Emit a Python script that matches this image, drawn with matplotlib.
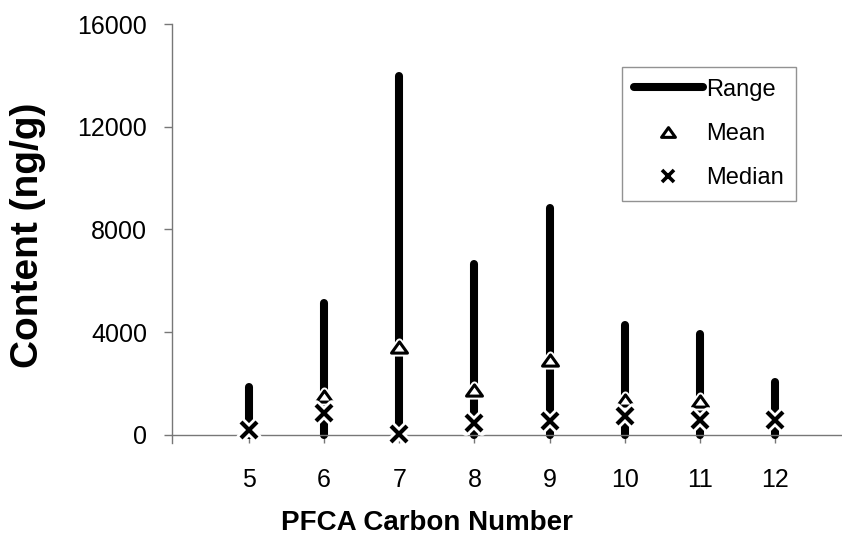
import matplotlib
matplotlib.use("Agg")
import matplotlib.pyplot as plt
import numpy as np
from matplotlib.lines import Line2D
from matplotlib.markers import MarkerStyle
from matplotlib.path import Path

plt.rcParams['font.family'] = ['Liberation Sans', 'DejaVu Sans']

carbon = [5, 6, 7, 8, 9, 10, 11, 12]
range_min = [0, 0, 0, 0, 0, 0, 0, 0]
range_max = [1870, 5140, 13980, 6650, 8840, 4280, 3930, 2060]
mean_vals = [np.nan, 1500, 3400, 1750, 2930, 1360, 1300, np.nan]
median_vals = [200, 860, 40, 470, 550, 750, 580, 580]
yticks = [0, 4000, 8000, 12000, 16000]

fig = plt.figure(figsize=(8.42, 5.58), dpi=100)
ax = fig.add_axes([172/842, (558-443)/558, (842-172)/842, (443-24)/558])

gray = '#777777'
lw_range = 5.8

for x, lo, hi in zip(carbon, range_min, range_max):
    ax.plot([x, x], [lo, hi], color='black', lw=lw_range,
            solid_capstyle='round', zorder=2)

tri_path = Path([(-1, -0.7), (1, -0.7), (0, 0.7), (-1, -0.7)],
                [Path.MOVETO, Path.LINETO, Path.LINETO, Path.CLOSEPOLY])
tri = MarkerStyle(tri_path, joinstyle='miter')
tri_halo = MarkerStyle(tri_path, joinstyle='round')
x_halo = MarkerStyle('x', capstyle='round')

# white halos then markers
ax.plot(carbon, mean_vals, linestyle='none', marker=tri_halo, markersize=11.5,
        markerfacecolor='white', markeredgecolor='white', markeredgewidth=5, zorder=3)
ax.plot(carbon, mean_vals, linestyle='none', marker=tri, markersize=11.5,
        markerfacecolor='white', markeredgecolor='black', markeredgewidth=2.2, zorder=4)
ax.plot(carbon, median_vals, linestyle='none', marker=x_halo, markersize=11.5,
        markeredgecolor='white', markeredgewidth=7, zorder=5)
ax.plot(carbon, median_vals, linestyle='none', marker='x', markersize=11.5,
        markeredgecolor='black', markeredgewidth=3, zorder=6)

ax.set_xlim(3.975, 12.89)
ax.set_ylim(-320, 16000)
ax.set_yticks(yticks)
ax.set_yticklabels([str(v) for v in yticks])
ax.set_xticks(carbon)
ax.set_xticklabels([str(c) for c in carbon])

for s in ['top', 'right']:
    ax.spines[s].set_visible(False)
ax.spines['bottom'].set_position(('data', 0))
ax.spines['left'].set_color(gray)
ax.spines['bottom'].set_color(gray)
ax.spines['left'].set_linewidth(1)
ax.spines['bottom'].set_linewidth(1)
ax.tick_params(axis='y', direction='out', length=6, width=1, color=gray,
               labelsize=18, pad=12)
ax.tick_params(axis='x', direction='out', length=6, width=1, color=gray,
               labelsize=18, pad=18)

ax.set_xlabel('PFCA Carbon Number', fontsize=20, fontweight='bold')
ax.xaxis.set_label_coords((427 - 172) / 670, (443 - 510) / 419)
ax.set_ylabel('Content (ng/g)', fontsize=28, fontweight='bold')
ax.yaxis.set_label_coords((46 - 172) / 670, (443 - 235) / 419)

handles = [
    Line2D([], [], color='black', lw=lw_range, solid_capstyle='round'),
    Line2D([], [], linestyle='none', marker=tri, markersize=10,
           markerfacecolor='white', markeredgecolor='black', markeredgewidth=2.2),
    Line2D([], [], linestyle='none', marker='x', markersize=9,
           markeredgecolor='black', markeredgewidth=2.6),
]
leg = ax.legend(handles, ['Range', 'Mean', 'Median'], loc='upper left',
                bbox_to_anchor=(0.672, 0.898), borderaxespad=0, fontsize=17,
                frameon=True, fancybox=False, handlelength=2.9,
                handletextpad=0.15, labelspacing=0.95, borderpad=0.5)
leg.get_frame().set_edgecolor(gray)
leg.get_frame().set_linewidth(1)

fig.savefig('out.png', dpi=100)
